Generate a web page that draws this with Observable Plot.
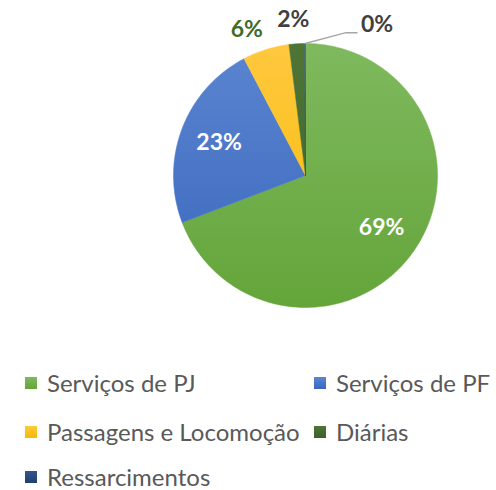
<!DOCTYPE html>
<html><head><meta charset="utf-8">
<script src="https://cdn.jsdelivr.net/npm/d3@7"></script>
<script src="https://cdn.jsdelivr.net/npm/@observablehq/plot@0.6"></script>
<style>
body{margin:0;background:#fff;}
#chart{position:relative;width:496px;height:490px;overflow:hidden;}
#chart svg{display:block;}
.legend{position:absolute;left:0;top:340px;width:496px;height:150px;font-family:Lato,sans-serif;font-size:24px;line-height:24px;color:#595959;}
.item{position:absolute;display:flex;align-items:center;white-space:nowrap;height:24px;}
.sw{width:12px;height:12px;margin-right:10px;flex:none;}
</style></head><body><div id="chart"></div>
<script>
const categories = ["Serviços de PJ","Serviços de PF","Passagens e Locomoção","Diárias","Ressarcimentos"];
const values = [69.2, 23.1, 5.7, 1.9, 0.1];
const labels = ["69%","23%","6%","2%","0%"];
const colors = ["#70AD47","#4472C4","#FFC000","#43682B","#264478"];
const topColors = ["#7FB95E","#5B85D0","#FFC83F","#4E7536","#34558C"];
const botColors = ["#64A53A","#3A67BE","#F6BB00","#3C6127","#203E70"];

const cx = 305, cy = 175, R = 132;
const arcs = d3.pie().sort(null).value(d => d)(values);

const pts = [];
arcs.forEach((a, i) => {
  const n = Math.max(2, Math.ceil((a.endAngle - a.startAngle) / (Math.PI / 180)));
  pts.push({cat: categories[i], x: 0, y: 0});
  for (let k = 0; k <= n; k++) {
    const t = a.startAngle + (a.endAngle - a.startAngle) * k / n;
    pts.push({cat: categories[i], x: Math.sin(t), y: Math.cos(t)});
  }
  pts.push({cat: categories[i], x: 0, y: 0});
});

const lab = arcs.map((a, i) => {
  const m = (a.startAngle + a.endAngle) / 2;
  const r = values[i] > 10 ? 0.7 : 1.18;
  return {label: labels[i], cat: categories[i], x: r * Math.sin(m), y: r * Math.cos(m), ex: Math.sin(m), ey: Math.cos(m), big: values[i] > 10};
});

// 0% label leader line (pixel offsets converted to data units)
const z = lab[4];
const zx = z.x + 72 / R, zy = z.y - 5 / R;
const leader = [
  {x: z.ex, y: z.ey},
  {x: zx - 31 / R, y: zy - 8 / R},
  {x: zx - 20 / R, y: zy - 8 / R}
];

const gradIds = categories.map((c, i) => "grad" + i);
const defs = () => {
  const d = d3.create("svg:defs");
  categories.forEach((c, i) => {
    const g = d.append("linearGradient").attr("id", gradIds[i])
      .attr("gradientUnits", "userSpaceOnUse")
      .attr("x1", 0).attr("x2", 0).attr("y1", cy - R).attr("y2", cy + R);
    g.append("stop").attr("offset", "0%").attr("stop-color", topColors[i]);
    g.append("stop").attr("offset", "100%").attr("stop-color", botColors[i]);
  });
  return d.node();
};

const labelFont = {fontFamily: "Lato, sans-serif", fontSize: 23, fontWeight: "bold"};

const plot = Plot.plot({
  width: 496, height: 340,
  margin: 0,
  x: {domain: [-1, 1], range: [cx - R, cx + R], axis: null},
  y: {domain: [-1, 1], range: [cy + R, cy - R], axis: null},
  color: {domain: categories, range: gradIds.map(id => `url(#${id})`), type: "ordinal"},
  marks: [
    defs,
    Plot.line(pts, {x: "x", y: "y", z: "cat", fill: "cat", stroke: "cat", strokeWidth: 0.5, curve: "linear"}),
    Plot.text(lab.filter(d => d.big), {x: "x", y: "y", text: "label", fill: "white", ...labelFont}),
    Plot.text([lab[2]], {x: "x", y: "y", text: "label", fill: "#3F6B2A", dx: -12, dy: 3, ...labelFont}),
    Plot.text([lab[3]], {x: "x", y: "y", text: "label", fill: "#404040", dx: -2, dy: 0, ...labelFont}),
    Plot.line(leader, {x: "x", y: "y", stroke: "#A6A6A6", strokeWidth: 1.3}),
    Plot.text([z], {x: () => zx, y: () => zy, text: "label", fill: "#404040", ...labelFont})
  ]
});

const chart = document.getElementById("chart");
chart.appendChild(plot);

const legend = document.createElement("div");
legend.className = "legend";
const pos = [[25, 43], [314, 43], [25, 92], [314, 92], [25, 137]];
categories.forEach((c, i) => {
  const it = document.createElement("div");
  it.className = "item";
  it.style.left = pos[i][0] + "px";
  it.style.top = (pos[i][1] - 12) + "px";
  const sw = document.createElement("div");
  sw.className = "sw";
  sw.style.background = `linear-gradient(${topColors[i]}, ${botColors[i]})`;
  const tx = document.createElement("span");
  tx.textContent = c;
  it.appendChild(sw); it.appendChild(tx);
  legend.appendChild(it);
});
chart.appendChild(legend);
</script>
</body></html>
